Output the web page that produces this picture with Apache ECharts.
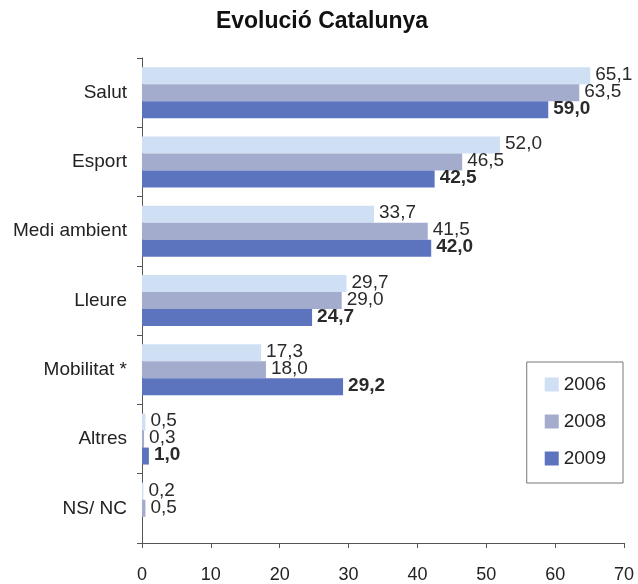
<!DOCTYPE html>
<html>
<head>
<meta charset="utf-8">
<script src="https://cdn.jsdelivr.net/npm/echarts@6/dist/echarts.min.js"></script>
<style>
  html, body { margin: 0; padding: 0; background: #fff; }
  #chart { width: 638px; height: 584px; }
</style>
</head>
<body>
<div id="chart"></div>
<script>
// categories (top to bottom)
const categories = ['Salut', 'Esport', 'Medi ambient', 'Lleure', 'Mobilitat *', 'Altres', 'NS/ NC']
const years = ['2006', '2008', '2009']

const values2006 = [65.1, 52.0, 33.7, 29.7, 17.3, 0.5, 0.2]
const values2008 = [63.5, 46.5, 41.5, 29.0, 18.0, 0.3, 0.5]
const values2009 = [59.0, 42.5, 42.0, 24.7, 29.2, 1.0, null]

const xTicks = [0, 10, 20, 30, 40, 50, 60, 70]

const colors = ['#cfdff4', '#a4acce', '#5c74be']
const font = "'Liberation Sans', Arial, sans-serif"

const fmt = p => (p.value == null ? '' : p.value.toFixed(1).replace('.', ','))

const makeSeries = (name, data, idx) => ({
    name,
    type: 'bar',
    data,
    barWidth: 17,
    barGap: '0%',
    itemStyle: { color: colors[idx] },
    label: {
        show: true,
        position: 'right',
        distance: 5,
        offset: [0, -1],
        formatter: fmt,
        fontFamily: font,
        fontSize: 19,
        lineHeight: 17,
        color: '#2a2a2a',
        fontWeight: idx === 2 ? 'bold' : 'normal',
    },
    animation: false,
})

const chart = echarts.init(document.getElementById('chart'))
chart.setOption({
    backgroundColor: '#fff',
    title: {
        text: 'Evolució Catalunya',
        left: 317,
        textAlign: 'center',
        top: 5,
        textStyle: { fontFamily: font, fontSize: 23, fontWeight: 'bold', color: '#111' },
    },
    legend: {
        data: years,
        orient: 'vertical',
        right: 15,
        top: 362,
        icon: 'rect',
        itemWidth: 14,
        itemHeight: 14,
        itemGap: 18,
        padding: [13, 17, 15, 18],
        borderColor: '#777',
        borderWidth: 1,
        textStyle: { fontFamily: font, fontSize: 19, color: '#222' },
    },
    grid: { left: 142, right: 14, top: 58, bottom: 39 },
    xAxis: {
        type: 'value',
        min: 0,
        max: 70,
        interval: 10,
        splitLine: { show: false },
        axisLine: { show: true, lineStyle: { color: '#555' } },
        axisTick: { show: true, length: 5, lineStyle: { color: '#555' } },
        axisLabel: {
            margin: 23,
            fontFamily: font,
            fontSize: 18,
            color: '#222',
            formatter: v => (xTicks.includes(v) ? String(v) : ''),
        },
    },
    yAxis: {
        type: 'category',
        data: categories,
        inverse: true,
        axisLine: { show: true, lineStyle: { color: '#555' } },
        axisTick: { show: true, length: 5, lineStyle: { color: '#555' } },
        axisLabel: { margin: 15, fontFamily: font, fontSize: 19, color: '#222' },
    },
    series: [
        makeSeries('2006', values2006, 0),
        makeSeries('2008', values2008, 1),
        makeSeries('2009', values2009, 2),
    ],
})
</script>
</body>
</html>
